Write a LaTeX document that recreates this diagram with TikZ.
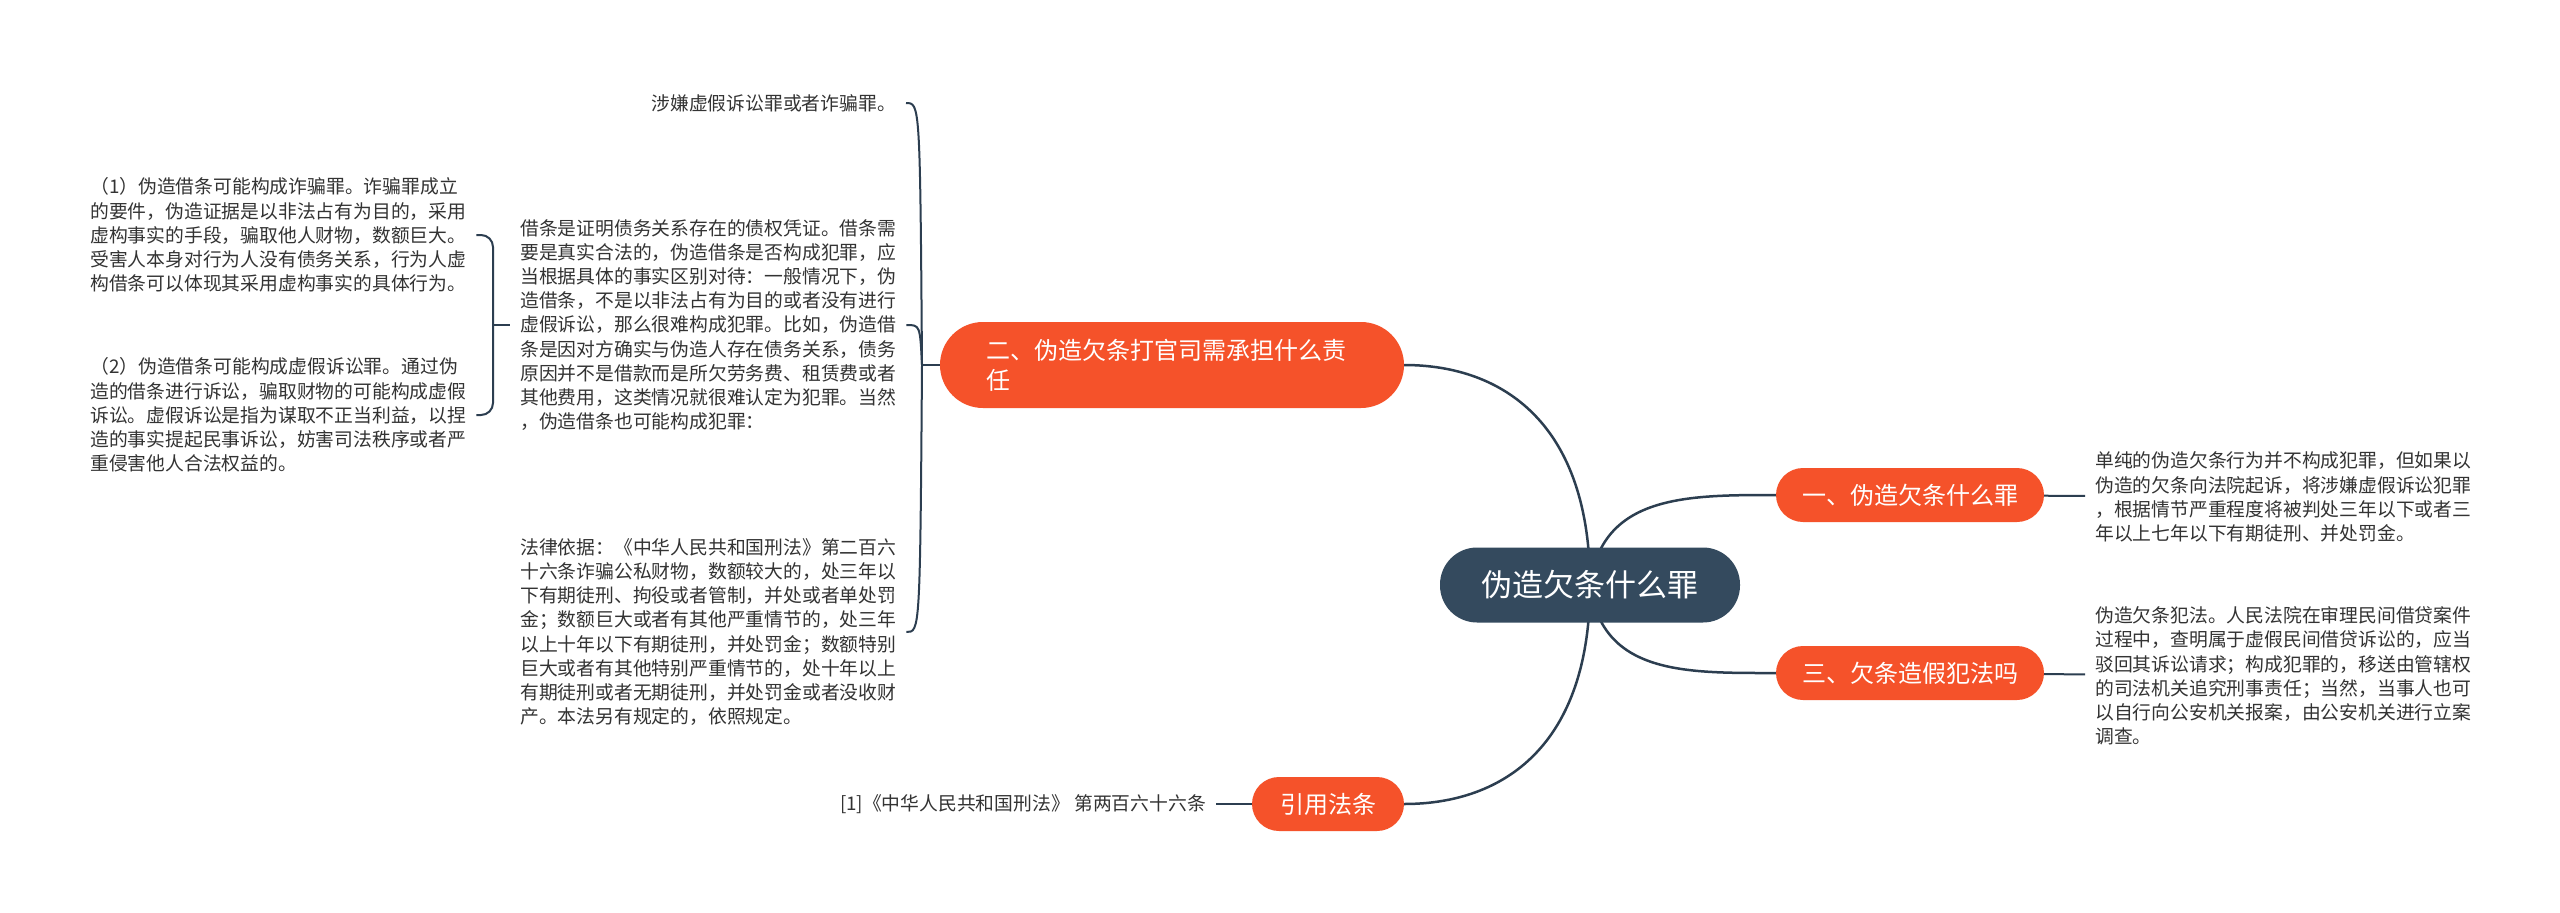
\documentclass[tikz,border=0pt]{standalone}
\usepackage{fontspec}
\setmainfont{Noto Sans CJK SC}
\usetikzlibrary{backgrounds}
\definecolor{rootfill}{HTML}{344A5E}
\definecolor{branchfill}{HTML}{F5522A}
\definecolor{linkcol}{HTML}{2C3E50}
\definecolor{notecol}{HTML}{333333}
\begin{document}
\begin{tikzpicture}[x=1pt, y=-1pt,
    root/.style = {fill=rootfill, text=white, rounded corners=37pt, minimum width=300pt, minimum height=75pt, font=\fontsize{31}{36}\selectfont},
    branch/.style = {fill=branchfill, text=white, rounded corners=27pt, minimum height=54pt, font=\fontsize{24}{30}\selectfont},
    note/.style = {text=notecol, align=left, inner xsep=10pt, inner ysep=2pt, font=\fontsize{18.8}{24.2}\selectfont},
    link/.style = {draw=linkcol, line width=2.5pt},
    sublink/.style = {draw=linkcol, line width=2pt}]

    \useasboundingbox (0,0) rectangle (2560,913);

    \node [root] (root) at (1590,585) {伪造欠条什么罪};
    \node [branch, minimum width=268pt] (yi) at (1910,495) {一、伪造欠条什么罪};
    \node [branch, minimum width=268pt] (san) at (1910,673) {三、欠条造假犯法吗};
    \node [branch, minimum height=86pt, rounded corners=43pt, text width=372pt, inner xsep=46pt, align=left] (er) at (1172,365) {二、伪造欠条打官司需承担什么责\\任};
    \node [branch, minimum width=152pt] (yin) at (1328,804) {引用法条};

    \node [note, anchor=west] (yitext) at (2085,497) {单纯的伪造欠条行为并不构成犯罪，但如果以\\伪造的欠条向法院起诉，将涉嫌虚假诉讼犯罪\\，根据情节严重程度将被判处三年以下或者三\\年以上七年以下有期徒刑、并处罚金。};
    \node [note, anchor=west] (santext) at (2085,676) {伪造欠条犯法。人民法院在审理民间借贷案件\\过程中，查明属于虚假民间借贷诉讼的，应当\\驳回其诉讼请求；构成犯罪的，移送由管辖权\\的司法机关追究刑事责任；当然，当事人也可\\以自行向公安机关报案，由公安机关进行立案\\调查。};
    \node [note, anchor=east] (reftext) at (1216,804) {[1]《中华人民共和国刑法》 第两百六十六条};

    \node [note, anchor=east] (t1) at (906,103) {涉嫌虚假诉讼罪或者诈骗罪。};
    \node [note, anchor=west] (t2) at (510,325) {借条是证明债务关系存在的债权凭证。借条需\\要是真实合法的，伪造借条是否构成犯罪，应\\当根据具体的事实区别对待：一般情况下，伪\\造借条，不是以非法占有为目的或者没有进行\\虚假诉讼，那么很难构成犯罪。比如，伪造借\\条是因对方确实与伪造人存在债务关系，债务\\原因并不是借款而是所欠劳务费、租赁费或者\\其他费用，这类情况就很难认定为犯罪。当然\\，伪造借条也可能构成犯罪：};
    \node [note, anchor=west] (t3) at (510,632) {法律依据：《中华人民共和国刑法》第二百六\\十六条诈骗公私财物，数额较大的，处三年以\\下有期徒刑、拘役或者管制，并处或者单处罚\\金；数额巨大或者有其他严重情节的，处三年\\以上十年以下有期徒刑，并处罚金；数额特别\\巨大或者有其他特别严重情节的，处十年以上\\有期徒刑或者无期徒刑，并处罚金或者没收财\\产。本法另有规定的，依照规定。};

    \node [note, anchor=west] (p1) at (80,235) {（1）伪造借条可能构成诈骗罪。诈骗罪成立\\的要件，伪造证据是以非法占有为目的，采用\\虚构事实的手段，骗取他人财物，数额巨大。\\受害人本身对行为人没有债务关系，行为人虚\\构借条可以体现其采用虚构事实的具体行为。};
    \node [note, anchor=west] (p2) at (80,415) {（2）伪造借条可能构成虚假诉讼罪。通过伪\\造的借条进行诉讼，骗取财物的可能构成虚假\\诉讼。虚假诉讼是指为谋取不正当利益，以捏\\造的事实提起民事诉讼，妨害司法秩序或者严\\重侵害他人合法权益的。};

    \coordinate (ej) at (922,365);
    \coordinate (jb) at (493,325);

    \begin{scope}[on background layer]
    \fill[white] (0,0) rectangle (2560,913);
    \draw[link] (root.center) .. controls +(0,-160) and +(100,0) .. (er.east);
    \draw[link] (root.center) .. controls +(0,160) and +(100,0) .. (yin.east);
    \draw[link] (root.center) .. controls +(12,-90) and +(-90,0) .. (yi.west);
    \draw[link] (root.center) .. controls +(12,90) and +(-90,0) .. (san.west);
    \end{scope}

    \draw[sublink] (yi) to (yitext);
    \draw[sublink] (san) to (santext);
    \draw[sublink] (yin) to (reftext);

    \draw[sublink] (er.west) -- (ej);
    \draw[sublink] (ej) .. controls (920,103) .. (t1.east);
    \draw[sublink] (ej) .. controls (920,325) .. (t2.east);
    \draw[sublink] (ej) .. controls (920,632) .. (t3.east);

    \draw[sublink, rounded corners=12pt] (p1.east) -| (jb) |- (p2.east);
    \draw[sublink] (jb) -- (t2.west);

\end{tikzpicture}
\end{document}
